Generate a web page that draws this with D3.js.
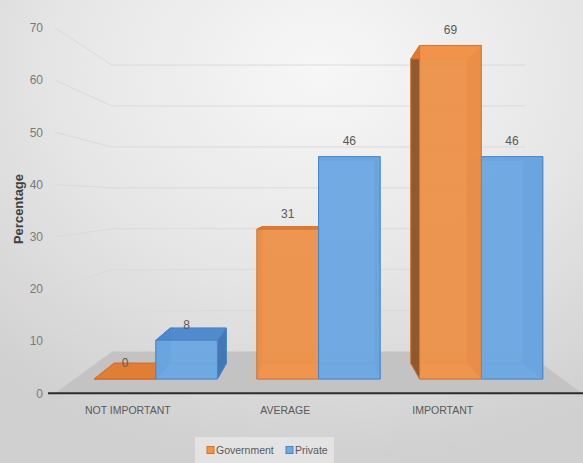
<!DOCTYPE html>
<html>
<head>
<meta charset="utf-8">
<script src="https://cdn.jsdelivr.net/npm/d3@7/dist/d3.min.js"></script>
<style>
  body { margin: 0; background: #ffffff; }
  svg { display: block; }
  text { font-family: "Liberation Sans", Arial, sans-serif; }
</style>
</head>
<body>
<script>
// Survey results by importance rating
const categories = ["NOT IMPORTANT", "AVERAGE", "IMPORTANT"];
const seriesNames = ["Government", "Private"];
const governmentValues = [0, 31, 69];
const privateValues = [8, 46, 46];
const yTickValues = [0, 10, 20, 30, 40, 50, 60, 70];

// Face colours for each series
const palette = {
  Government: { front: "#f2954b", top: "#e27c34", side: "#8e5326", stroke: "#d2722d" },
  Private:    { front: "#6eaae4", top: "#4f89cb", side: "#3d74b4", stroke: "#4583c6" }
};

const W = 583, H = 463;

// One-point perspective: front-plane coordinates are pulled toward the eye point by a depth factor
const eye = { x: 319, y: 200 };
const depth = { wall: 0.784, barFront: 0.926, barBack: 0.845 };
const proj = (x, y, s) => [eye.x + (x - eye.x) * s, eye.y + (y - eye.y) * s];

const yScale = d3.scaleLinear().domain([0, 70]).range([393.3, 27.9]);
const xScale = d3.scaleBand().domain(categories).range([55, 582])
  .paddingInner(0.243).paddingOuter(0.1215);
const sScale = d3.scaleBand().domain(seriesNames).range([0, xScale.bandwidth()]);
const labelScale = d3.scaleBand().domain(categories).range([49, 521.5]);

const svg = d3.select("body").append("svg").attr("width", W).attr("height", H);
const defs = svg.append("defs");

const bg = defs.append("radialGradient").attr("id", "bg")
  .attr("cx", "55%").attr("cy", "15%").attr("r", "85%");
bg.append("stop").attr("offset", "0%").attr("stop-color", "#f7f7f7");
bg.append("stop").attr("offset", "50%").attr("stop-color", "#e7e7e7");
bg.append("stop").attr("offset", "100%").attr("stop-color", "#d0d0d0");

svg.append("rect").attr("width", W).attr("height", H).attr("fill", "url(#bg)");

const line = d3.line();
const y0 = yScale(0);
const [xL, xR] = xScale.range();

// Gridlines: along the side wall, then across the back wall
svg.append("g").selectAll("path")
  .data(yTickValues.filter(v => v > 0))
  .join("path")
  .attr("d", v => {
    const y = yScale(v);
    return line([[xL, y], proj(xL, y, depth.wall), proj(xR, y, depth.wall)]);
  })
  .attr("fill", "none").attr("stroke", "#dadada").attr("stroke-width", 1);

// Floor
svg.append("path")
  .attr("d", line([proj(xL, y0, 1), proj(xR, y0, 1), proj(xR, y0, depth.wall), proj(xL, y0, depth.wall)]) + "Z")
  .attr("fill", "#c3c3c3");

// Category axis line
svg.append("line")
  .attr("x1", 48).attr("x2", W).attr("y1", y0).attr("y2", y0)
  .attr("stroke", "#2b2b2b").attr("stroke-width", 2);

// Bars as translucent boxes
const bars = categories.flatMap((c, i) => [
  { cat: c, series: "Government", value: governmentValues[i] },
  { cat: c, series: "Private", value: privateValues[i] }
]).map(d => {
  const x0 = xScale(d.cat) + sScale(d.series);
  const x1 = x0 + sScale.bandwidth();
  return { ...d, x0, x1, yT: yScale(d.value), yB: y0, cx: (x0 + x1) / 2 };
});
bars.sort((a, b) => Math.abs(b.cx - eye.x) - Math.abs(a.cx - eye.x));

const F = depth.barFront, B = depth.barBack;
const barG = svg.append("g");
bars.forEach(d => {
  const c = palette[d.series];
  const faces = [
    { pts: [[d.x0, d.yT, B], [d.x1, d.yT, B], [d.x1, d.yB, B], [d.x0, d.yB, B]], fill: c.side, op: 0.5 },
    { pts: [[d.x0, d.yB, F], [d.x1, d.yB, F], [d.x1, d.yB, B], [d.x0, d.yB, B]], fill: c.top, op: 0.6 },
    { pts: [[d.x0, d.yT, F], [d.x0, d.yT, B], [d.x0, d.yB, B], [d.x0, d.yB, F]], fill: c.side, op: 0.92 },
    { pts: [[d.x1, d.yT, F], [d.x1, d.yT, B], [d.x1, d.yB, B], [d.x1, d.yB, F]], fill: c.side, op: 0.92 },
    { pts: [[d.x0, d.yT, F], [d.x1, d.yT, F], [d.x1, d.yT, B], [d.x0, d.yT, B]], fill: c.top, op: 0.95 },
    { pts: [[d.x0, d.yT, F], [d.x1, d.yT, F], [d.x1, d.yB, F], [d.x0, d.yB, F]], fill: c.front, op: 0.9 }
  ];
  faces.forEach(f => {
    barG.append("path")
      .attr("d", line(f.pts.map(p => proj(p[0], p[1], p[2]))) + "Z")
      .attr("fill", f.fill).attr("fill-opacity", f.op)
      .attr("stroke", c.stroke).attr("stroke-opacity", 0.8).attr("stroke-width", 1)
      .attr("stroke-linejoin", "round");
  });
});

// Value labels above each bar
svg.append("g").selectAll("text")
  .data(bars)
  .join("text")
  .attr("x", d => proj(d.cx, d.yT - 17, F)[0])
  .attr("y", d => proj(d.cx, d.yT - 17, F)[1])
  .attr("dy", "0.35em")
  .attr("text-anchor", "middle")
  .attr("font-size", 12).attr("fill", "#595959")
  .text(d => d.value);

// Value axis
const yAxis = svg.append("g").attr("transform", "translate(46,0)")
  .call(d3.axisLeft(yScale).tickValues(yTickValues).tickSize(0).tickPadding(3));
yAxis.select(".domain").remove();
yAxis.selectAll("text").attr("font-size", 12).attr("fill", "#7a7a7a")
  .style("font-family", "'Liberation Sans',Arial,sans-serif");

// Category labels
const xAxis = svg.append("g").attr("transform", `translate(0,${y0 + 13})`)
  .call(d3.axisBottom(labelScale).tickSize(0).tickPadding(0));
xAxis.select(".domain").remove();
xAxis.selectAll("text").attr("font-size", 10.5).attr("fill", "#595959").attr("dy", "0.71em")
  .style("font-family", "'Liberation Sans',Arial,sans-serif");

// Axis title
svg.append("text")
  .attr("transform", "translate(18,209) rotate(-90)")
  .attr("text-anchor", "middle").attr("dy", "0.35em")
  .attr("font-size", 13).attr("font-weight", "bold").attr("fill", "#404040")
  .text("Percentage");

// Legend
const legend = svg.append("g");
legend.append("rect").attr("x", 195).attr("y", 437).attr("width", 139).attr("height", 30)
  .attr("fill", "#e3e3e3");
const legendX = d3.scaleOrdinal().domain(seriesNames).range([207, 286]);
const item = legend.selectAll("g.item").data(seriesNames).join("g")
  .attr("class", "item")
  .attr("transform", d => `translate(${legendX(d)},450)`);
item.append("rect").attr("x", 0).attr("y", -3.5).attr("width", 7).attr("height", 7)
  .attr("fill", d => palette[d].front).attr("stroke", d => palette[d].stroke);
item.append("text").attr("x", 9).attr("dy", "0.35em")
  .attr("font-size", 10.5).attr("fill", "#595959")
  .text(d => d);
</script>
</body>
</html>
